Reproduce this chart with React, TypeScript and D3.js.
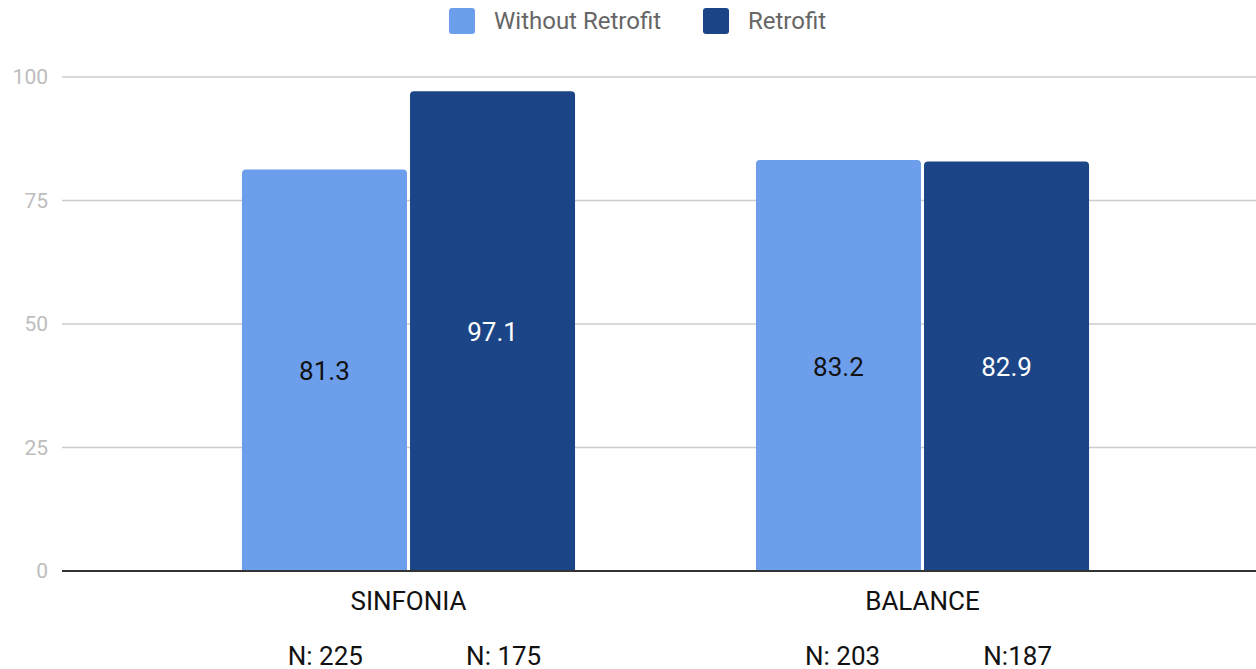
import React, { useEffect, useRef } from 'react';
import * as d3 from 'd3';

const categories = ['SINFONIA', 'BALANCE'];
const seriesNames = ['Without Retrofit', 'Retrofit'];
const withoutRetrofit = [81.3, 83.2];
const retrofit = [97.1, 82.9];
const sampleLabels = [
  ['N: 225', 'N: 175'],
  ['N: 203', 'N:187'],
];
const yTicks = [0, 25, 50, 75, 100];
const colors = ['#6d9eeb', '#1c4587'];
const labelColors = ['#111111', '#ffffff'];

const W = 1256;
const H = 669;
const FONT = 'Roboto, "Noto Sans", sans-serif';

// top-rounded bar path
function barPath(x: number, y: number, w: number, h: number, r: number) {
  const rr = Math.min(r, h / 2, w / 2);
  return `M${x},${y + h}V${y + rr}Q${x},${y} ${x + rr},${y}H${x + w - rr}Q${x + w},${y} ${x + w},${y + rr}V${y + h}Z`;
}

function App() {
  const ref = useRef<SVGSVGElement>(null);

  useEffect(() => {
    const svg = d3.select(ref.current);
    svg.selectAll('*').remove();

    const x0 = d3.scaleBand<string>()
      .domain(categories)
      .range([151.5, 1179.5])
      .paddingInner(0.352)
      .paddingOuter(0.176);

    const x1 = d3.scaleBand<string>()
      .domain(seriesNames)
      .range([0, x0.bandwidth()])
      .paddingInner(0.018);

    const y = d3.scaleLinear().domain([0, 100]).range([571, 77]);

    // gridlines
    svg.append('g')
      .selectAll('line')
      .data(yTicks.filter((t) => t > 0))
      .enter()
      .append('line')
      .attr('x1', 62)
      .attr('x2', W)
      .attr('y1', (d) => y(d))
      .attr('y2', (d) => y(d))
      .attr('stroke', '#cccccc')
      .attr('stroke-width', 1.5);

    // y labels
    svg.append('g')
      .selectAll('text')
      .data(yTicks)
      .enter()
      .append('text')
      .attr('x', 48)
      .attr('y', (d) => y(d))
      .attr('dy', '0.35em')
      .attr('text-anchor', 'end')
      .attr('font-family', FONT)
      .attr('font-size', 21)
      .attr('fill', '#bdbdbd')
      .text((d) => d);

    const series = [withoutRetrofit, retrofit];

    categories.forEach((cat, ci) => {
      const g = svg.append('g').attr('transform', `translate(${x0(cat)},0)`);
      seriesNames.forEach((s, si) => {
        const v = series[si][ci];
        const bx = x1(s)!;
        const bw = x1.bandwidth();
        g.append('path')
          .attr('d', barPath(bx, y(v), bw, y(0) - y(v), 4))
          .attr('fill', colors[si]);
        g.append('text')
          .attr('x', bx + bw / 2)
          .attr('y', (y(v) + y(0)) / 2 + 1)
          .attr('dy', '0.35em')
          .attr('text-anchor', 'middle')
          .attr('font-family', FONT)
          .attr('font-size', 26)
          .attr('fill', labelColors[si])
          .text(v.toFixed(1));
      });

      const cx = x0(cat)! + x0.bandwidth() / 2;
      svg.append('text')
        .attr('x', cx)
        .attr('y', 610)
        .attr('text-anchor', 'middle')
        .attr('font-family', FONT)
        .attr('font-size', 26)
        .attr('fill', '#111111')
        .text(cat);
      svg.append('text')
        .attr('x', cx + 6)
        .attr('y', 665)
        .attr('text-anchor', 'middle')
        .attr('font-family', FONT)
        .attr('font-size', 26)
        .attr('fill', '#111111')
        .style('white-space', 'pre')
        .text(sampleLabels[ci].join('                '));
    });

    // baseline
    svg.append('line')
      .attr('x1', 62)
      .attr('x2', W)
      .attr('y1', y(0))
      .attr('y2', y(0))
      .attr('stroke', '#333333')
      .attr('stroke-width', 2);

    // legend
    const legendX = [449, 703];
    seriesNames.forEach((s, i) => {
      svg.append('rect')
        .attr('x', legendX[i])
        .attr('y', 8)
        .attr('width', 26)
        .attr('height', 26)
        .attr('rx', 3)
        .attr('fill', colors[i]);
      svg.append('text')
        .attr('x', legendX[i] + 45)
        .attr('y', 21)
        .attr('dy', '0.35em')
        .attr('font-family', FONT)
        .attr('font-size', 24)
        .attr('fill', '#666666')
        .text(s);
    });
  }, []);

  return (
    <svg
      ref={ref}
      width={W}
      height={H}
      style={{ position: 'absolute', left: 0, top: 0, background: '#ffffff' }}
    />
  );
}

export default App;
